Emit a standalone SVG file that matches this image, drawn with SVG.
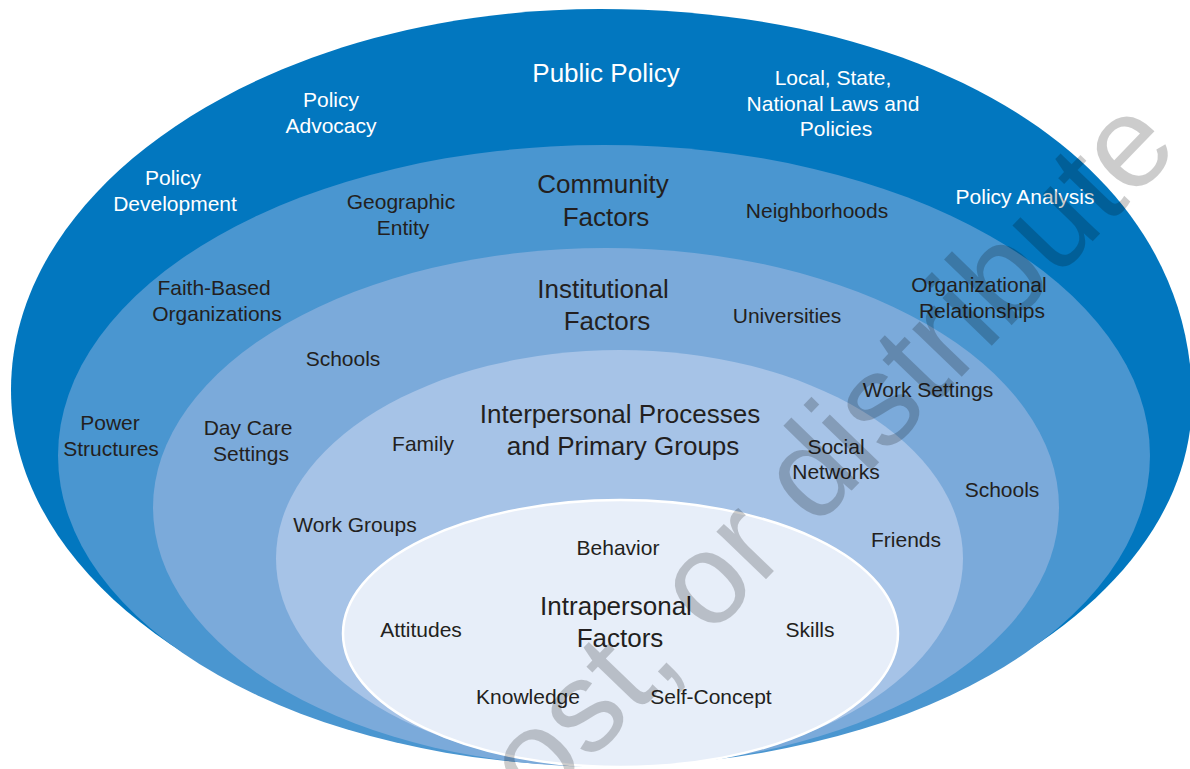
<svg xmlns="http://www.w3.org/2000/svg" width="1190" height="769" viewBox="0 0 1190 769">
<style>
text{font-family:"Liberation Sans",Arial,Helvetica,sans-serif;text-anchor:middle}
.w{fill:#fff;font-size:21px}
.d{fill:#231f20;font-size:21px}
.tw{fill:#fff;font-size:26px}
.td{fill:#231f20;font-size:26px}
.wm{fill:#000;fill-opacity:.2;font-size:130px;text-anchor:start}
</style>
<rect width="1190" height="769" fill="#fff"/>
<g id="public-policy">
<path fill="#0277bf" d="M600 9 C945 9 1192 170 1192 400 C1192 600 927 762 600 762 C275 762 11 595 11 390 C11 180 275 9 600 9Z"/>
<text class="tw" x="606" y="82">Public Policy</text>
<text class="w" x="331" y="107">Policy</text>
<text class="w" x="331" y="133">Advocacy</text>
<text class="w" x="173" y="185">Policy</text>
<text class="w" x="175" y="211">Development</text>
<text class="w" x="833" y="85">Local, State,</text>
<text class="w" x="833" y="111">National Laws and</text>
<text class="w" x="836" y="136">Policies</text>
<text class="w" x="1025" y="204">Policy Analysis</text>
</g>
<g id="community-factors">
<ellipse cx="604" cy="455.5" rx="546" ry="310.5" fill="#4a96d0"/>
<text class="td" x="603" y="193">Community</text>
<text class="td" x="606" y="226">Factors</text>
<text class="d" x="401" y="209">Geographic</text>
<text class="d" x="403" y="235">Entity</text>
<text class="d" x="817" y="218">Neighborhoods</text>
<text class="d" x="214" y="295">Faith-Based</text>
<text class="d" x="217" y="321">Organizations</text>
<text class="d" x="979" y="292">Organizational</text>
<text class="d" x="982" y="318">Relationships</text>
<text class="d" x="110" y="430">Power</text>
<text class="d" x="111" y="456">Structures</text>
</g>
<g id="institutional-factors">
<ellipse cx="606" cy="507.5" rx="453" ry="259.5" fill="#7baada"/>
<text class="td" x="603" y="298">Institutional</text>
<text class="td" x="607" y="330">Factors</text>
<text class="d" x="343" y="366">Schools</text>
<text class="d" x="787" y="323">Universities</text>
<text class="d" x="928" y="397">Work Settings</text>
<text class="d" x="248" y="435">Day Care</text>
<text class="d" x="251" y="461">Settings</text>
<text class="d" x="1002" y="497">Schools</text>
</g>
<g id="interpersonal-processes">
<ellipse cx="619.5" cy="558.5" rx="343.5" ry="208.5" fill="#a6c3e7"/>
<text class="td" x="620" y="423">Interpersonal Processes</text>
<text class="td" x="623" y="455">and Primary Groups</text>
<text class="d" x="423" y="451">Family</text>
<text class="d" x="836" y="454">Social</text>
<text class="d" x="836" y="479">Networks</text>
<text class="d" x="355" y="532">Work Groups</text>
<text class="d" x="906" y="547">Friends</text>
</g>
<g id="intrapersonal-factors">
<ellipse cx="620.5" cy="633.5" rx="277.5" ry="133.5" fill="#e7eef9" stroke="#fff" stroke-width="2.5"/>
<text class="d" x="618" y="555">Behavior</text>
<text class="td" x="616" y="615">Intrapersonal</text>
<text class="td" x="620" y="647">Factors</text>
<text class="d" x="421" y="637">Attitudes</text>
<text class="d" x="810" y="637">Skills</text>
<text class="d" x="528" y="704">Knowledge</text>
<text class="d" x="711" y="704">Self-Concept</text>
</g>
<g id="watermark">
<text class="wm" transform="translate(539 814.5) rotate(-46)">ost, or distribute</text>
</g>
</svg>
